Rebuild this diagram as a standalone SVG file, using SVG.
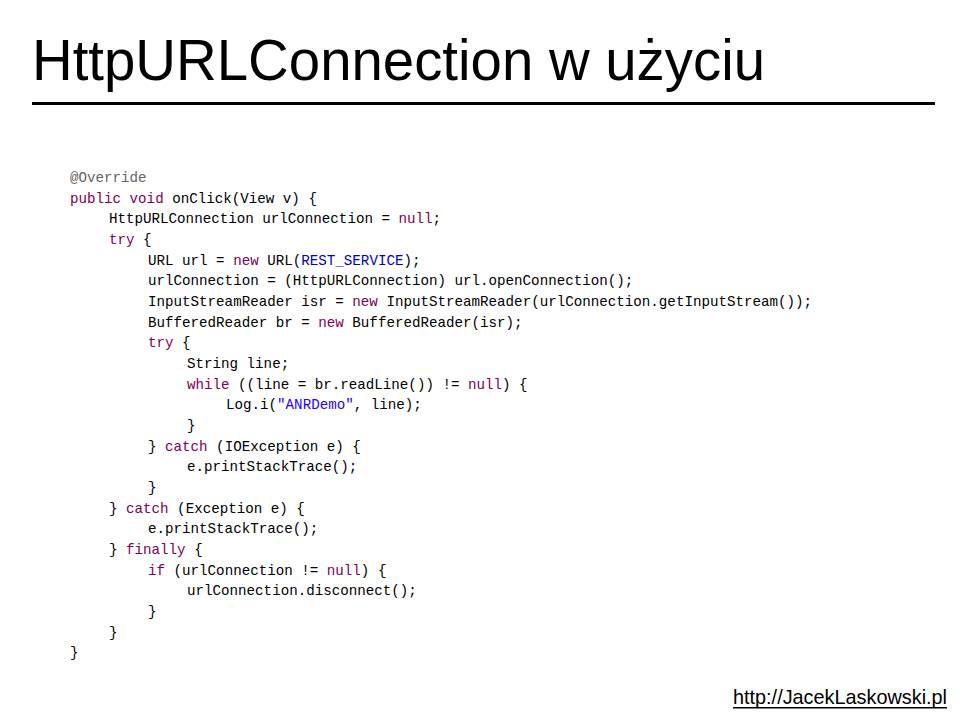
<svg xmlns="http://www.w3.org/2000/svg" width="960" height="720" viewBox="0 0 960 720">
<style>
.c{font-family:"Liberation Mono",monospace;font-size:14.2px;fill:#000;white-space:pre}
.k{fill:#7f0055}.a{fill:#646464}.b{fill:#0000c0}.s{fill:#2a00ff}
</style>
<rect width="960" height="720" fill="#fff"/>
<g id="title"><text x="32" y="80" font-family="Liberation Sans, sans-serif" font-size="58" textLength="733" lengthAdjust="spacingAndGlyphs">HttpURLConnection w użyciu</text>
<rect x="32" y="102" width="903" height="3" fill="#000"/></g>
<g id="code" class="c">
<text x="70" y="182" class="c a">@Override</text>
<text x="70" y="203" class="c"><tspan class="k">public void</tspan> onClick(View v) {</text>
<text x="109" y="223" class="c">HttpURLConnection urlConnection = <tspan class="k">null</tspan>;</text>
<text x="109" y="244" class="c"><tspan class="k">try</tspan> {</text>
<text x="148" y="265" class="c">URL url = <tspan class="k">new</tspan> URL(<tspan class="b">REST_SERVICE</tspan>);</text>
<text x="148" y="285" class="c">urlConnection = (HttpURLConnection) url.openConnection();</text>
<text x="148" y="306" class="c">InputStreamReader isr = <tspan class="k">new</tspan> InputStreamReader(urlConnection.getInputStream());</text>
<text x="148" y="327" class="c">BufferedReader br = <tspan class="k">new</tspan> BufferedReader(isr);</text>
<text x="148" y="347" class="c"><tspan class="k">try</tspan> {</text>
<text x="187" y="368" class="c">String line;</text>
<text x="187" y="389" class="c"><tspan class="k">while</tspan> ((line = br.readLine()) != <tspan class="k">null</tspan>) {</text>
<text x="226" y="409" class="c">Log.i(<tspan class="s">"ANRDemo"</tspan>, line);</text>
<text x="187" y="430" class="c">}</text>
<text x="148" y="451" class="c">} <tspan class="k">catch</tspan> (IOException e) {</text>
<text x="187" y="471" class="c">e.printStackTrace();</text>
<text x="148" y="492" class="c">}</text>
<text x="109" y="513" class="c">} <tspan class="k">catch</tspan> (Exception e) {</text>
<text x="148" y="533" class="c">e.printStackTrace();</text>
<text x="109" y="554" class="c">} <tspan class="k">finally</tspan> {</text>
<text x="148" y="575" class="c"><tspan class="k">if</tspan> (urlConnection != <tspan class="k">null</tspan>) {</text>
<text x="187" y="595" class="c">urlConnection.disconnect();</text>
<text x="148" y="616" class="c">}</text>
<text x="109" y="637" class="c">}</text>
<text x="70" y="657" class="c">}</text>
</g>
<g id="footer"><text x="733" y="704" font-family="Liberation Sans, sans-serif" font-size="21" textLength="214" lengthAdjust="spacingAndGlyphs">http://JacekLaskowski.pl</text>
<rect x="733" y="707" width="214" height="1.5" fill="#000"/></g>
</svg>
